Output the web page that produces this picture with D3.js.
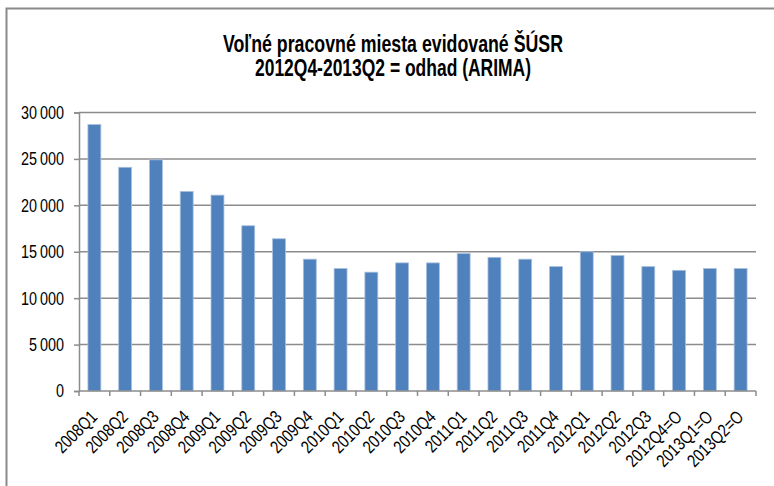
<!DOCTYPE html>
<html>
<head>
<meta charset="utf-8">
<script src="https://cdn.jsdelivr.net/npm/d3@7"></script>
<style>
  html, body { margin: 0; padding: 0; background: #fff; }
  svg { display: block; }
  text { font-family: "Liberation Sans", Arial, sans-serif; fill: #000; }
</style>
</head>
<body>
<svg id="chart" width="774" height="486"></svg>
<script>
const titleLines = ['Voľné pracovné miesta evidované ŠÚSR', '2012Q4-2013Q2 = odhad (ARIMA)'];

const quarters = [
  '2008Q1', '2008Q2', '2008Q3', '2008Q4',
  '2009Q1', '2009Q2', '2009Q3', '2009Q4',
  '2010Q1', '2010Q2', '2010Q3', '2010Q4',
  '2011Q1', '2011Q2', '2011Q3', '2011Q4',
  '2012Q1', '2012Q2', '2012Q3',
  '2012Q4=O', '2013Q1=O', '2013Q2=O'
];

const vacancies = [
  28700, 24100, 24900, 21500,
  21100, 17800, 16400, 14200,
  13200, 12800, 13800, 13800,
  14800, 14400, 14200, 13400,
  15000, 14600, 13400,
  13000, 13200, 13200
];

const yTicks = [0, 5000, 10000, 15000, 20000, 25000, 30000];

const svg = d3.select('#chart');
const width = 774, height = 486;
const margin = { left: 79, right: 18, top: 112.5, bottom: 95 };
const narrow = 0.8; // squeeze Liberation Sans into an Arial Narrow look

// outer frame of the chart (runs off the right and bottom edge)
svg.append('rect')
  .attr('x', 6.5).attr('y', 8.5)
  .attr('width', 800).attr('height', 500)
  .attr('fill', 'none')
  .attr('stroke', '#8a8a8a')
  .attr('stroke-width', 2);

const x = d3.scaleBand()
  .domain(quarters)
  .range([margin.left, width - margin.right])
  .paddingInner(0.58)
  .paddingOuter(0.29);

const y = d3.scaleLinear()
  .domain([0, 30000])
  .range([height - margin.bottom, margin.top]);

const fmt = d => d3.format(',')(d).replace(/,/g, '\u2009');

// gridlines
svg.append('g')
  .selectAll('line')
  .data(yTicks.filter(d => d > 0))
  .join('line')
  .attr('x1', margin.left).attr('x2', width - margin.right)
  .attr('y1', d => y(d)).attr('y2', d => y(d))
  .attr('stroke', '#8c8c8c')
  .attr('stroke-width', 1.5);

// bars
svg.append('g')
  .selectAll('rect')
  .data(vacancies)
  .join('rect')
  .attr('x', (d, i) => x(quarters[i]))
  .attr('y', d => y(d))
  .attr('width', x.bandwidth())
  .attr('height', d => y(0) - y(d))
  .attr('fill', '#4f81bd')
  .attr('stroke', '#a9c1df')
  .attr('stroke-width', 0.8);

// y axis, labels drawn by hand so they can be squeezed
const yAxis = svg.append('g')
  .attr('transform', `translate(${margin.left},0)`)
  .call(d3.axisLeft(y).tickValues(yTicks).tickFormat('').tickSize(5));
yAxis.select('.domain').attr('stroke', '#8c8c8c').attr('stroke-width', 1.5);
yAxis.selectAll('.tick line').attr('stroke', '#8c8c8c').attr('stroke-width', 1.5);

svg.append('g')
  .selectAll('text')
  .data(yTicks)
  .join('text')
  .attr('text-anchor', 'end')
  .attr('dy', '0.36em')
  .attr('font-size', 18)
  .attr('transform', d => `translate(64,${y(d)}) scale(${narrow},1)`)
  .text(fmt);

// x axis: ticks sit between categories
const bounds = d3.range(quarters.length + 1).map(i => margin.left + i * x.step());
const xAxis = svg.append('g');
xAxis.append('line')
  .attr('x1', margin.left).attr('x2', width - margin.right)
  .attr('y1', y(0)).attr('y2', y(0))
  .attr('stroke', '#8c8c8c').attr('stroke-width', 1.5);
xAxis.selectAll('line.tk')
  .data(bounds)
  .join('line')
  .attr('class', 'tk')
  .attr('x1', d => d).attr('x2', d => d)
  .attr('y1', y(0)).attr('y2', y(0) + 5)
  .attr('stroke', '#8c8c8c').attr('stroke-width', 1.5);

xAxis.selectAll('text')
  .data(quarters)
  .join('text')
  .attr('text-anchor', 'end')
  .attr('font-size', 18)
  .attr('transform', d => `translate(${x(d) + x.bandwidth() / 2 + 4},${y(0) + 27}) rotate(-45) scale(${narrow},1)`)
  .text(d => d);

// title
const titleWidths = [340, 276];
svg.append('g')
  .selectAll('text')
  .data(titleLines)
  .join('text')
  .attr('x', 393)
  .attr('y', (d, i) => 51.7 + i * 24)
  .attr('text-anchor', 'middle')
  .attr('font-size', 23)
  .attr('font-weight', 'bold')
  .attr('textLength', (d, i) => titleWidths[i])
  .attr('lengthAdjust', 'spacingAndGlyphs')
  .text(d => d);
</script>
</body>
</html>
